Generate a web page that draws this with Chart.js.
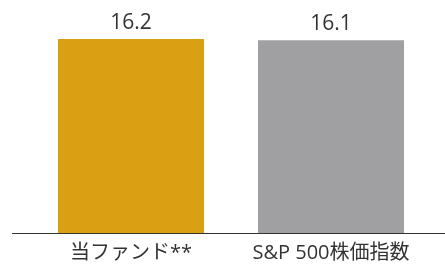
<!DOCTYPE html>
<html>
<head>
<meta charset="utf-8">
<script src="https://cdn.jsdelivr.net/npm/chart.js@4/dist/chart.umd.min.js"></script>
<style>
  html, body { margin: 0; padding: 0; background: #fff; }
  #wrap { width: 445px; height: 264px; }
</style>
</head>
<body>
<div id="wrap"><canvas id="myChart"></canvas></div>
<script>
const categories = ['当ファンド**', 'S&P 500株価指数'];
const values = [16.2, 16.1];
const colors = ['#DAA013', '#A0A0A2'];

const fontFamily = '"Open Sans", "Noto Sans CJK JP", sans-serif';

// value above each bar + baseline that runs past the plot area
const extras = {
    id: 'extras',
    afterDatasetsDraw(chart) {
        const ctx = chart.ctx;
        const meta = chart.getDatasetMeta(0);
        ctx.save();
        ctx.fillStyle = '#333';
        ctx.font = '21px ' + fontFamily;
        ctx.textAlign = 'center';
        ctx.textBaseline = 'alphabetic';
        meta.data.forEach((bar, i) => {
            ctx.fillText(values[i].toFixed(1), bar.x, bar.y - 10);
        });
        const y = chart.chartArea.bottom + 0.5;
        ctx.strokeStyle = '#333';
        ctx.lineWidth = 1;
        ctx.beginPath();
        ctx.moveTo(12, y);
        ctx.lineTo(445, y);
        ctx.stroke();
        ctx.restore();
    }
};

const ctx = document.getElementById('myChart').getContext('2d');
const chart = new Chart(ctx, {
    type: 'bar',
    data: {
        labels: categories,
        datasets: [{
            data: values,
            backgroundColor: colors,
            barPercentage: 0.73,
            categoryPercentage: 1
        }]
    },
    options: {
        responsive: true,
        maintainAspectRatio: false,
        animation: false,
        layout: { padding: { top: 39, left: 31, right: 14, bottom: 0 } },
        plugins: { legend: { display: false }, tooltip: { enabled: false } },
        scales: {
            x: {
                grid: { display: false },
                border: { display: false },
                afterFit(scale) { scale.height = 31; },
                ticks: {
                    color: '#333',
                    padding: 0,
                    maxRotation: 0,
                    font: { family: fontFamily, size: 20, lineHeight: 1.2 }
                }
            },
            y: {
                display: false,
                min: 0,
                max: 16.2
            }
        }
    },
    plugins: [extras]
});
</script>
</body>
</html>
